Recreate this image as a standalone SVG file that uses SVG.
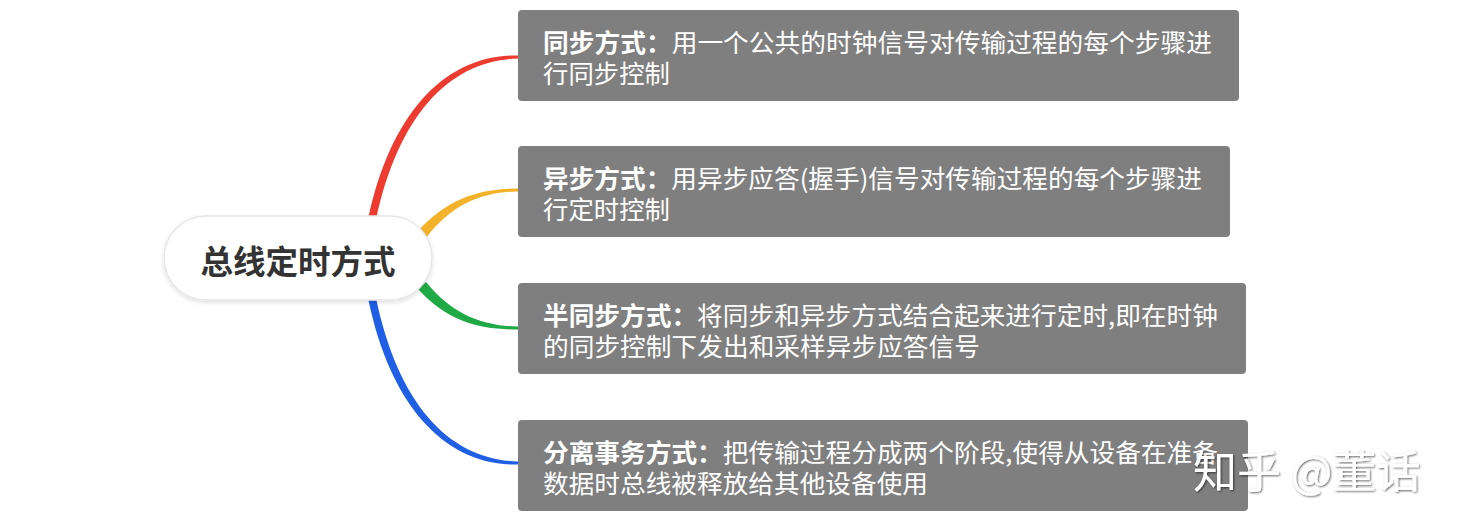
<svg xmlns="http://www.w3.org/2000/svg" width="1461" height="529" viewBox="0 0 1461 529">
<defs>
<filter id="sh" x="-10%" y="-20%" width="120%" height="150%"><feDropShadow dx="0" dy="2" stdDeviation="2" flood-color="#000" flood-opacity="0.12"/></filter>
<filter id="wm" x="-10%" y="-20%" width="120%" height="150%"><feDropShadow dx="1" dy="1" stdDeviation="1" flood-color="#000" flood-opacity="0.6"/></filter>
<style>
.box{fill:#7f7f7f;}
.t{font-family:"Noto Sans CJK SC","Noto Sans",sans-serif;font-size:25px;fill:#fff;}
.b{font-weight:bold;}
.c{font-family:"Noto Sans CJK SC","Noto Sans",sans-serif;font-size:32.5px;font-weight:bold;fill:#333;}
</style>
</defs>
<rect width="1461" height="529" fill="#fff"/>
<g id="connectors">
<path d="M368 220 C391 110 448 54 518 55.5 L518 58.5 C452 60 399 112 376 220 Z" fill="#ee3b2f"/>
<path d="M418 231 C448 198 480 188.5 518 188.5 L518 191.5 C482 192 452 204 426 238 Z" fill="#f4b22b"/>
<path d="M418 289 C448 322 480 329.5 518 329.5 L518 326.5 C482 326 452 314 426 282 Z" fill="#1faa45"/>
<path d="M368 298 C391 410 448 466 518 464.5 L518 461.5 C452 460 399 408 376 298 Z" fill="#1f5fe6"/>
</g>
<g id="root">
<rect x="164" y="216" width="268" height="84" rx="42" fill="#fff" stroke="#e6e6e6" stroke-width="1.5" filter="url(#sh)"/>
<text class="c" x="298" y="274" text-anchor="middle">总线定时方式</text>
</g>
<g id="n1">
<rect class="box" x="518" y="10" width="721" height="91" rx="4"/>
<text class="t" x="543" y="52" textLength="669" lengthAdjust="spacingAndGlyphs"><tspan class="b">同步方式：</tspan>用一个公共的时钟信号对传输过程的每个步骤进</text>
<text class="t" x="543" y="83" textLength="127" lengthAdjust="spacingAndGlyphs">行同步控制</text>
</g>
<g id="n2">
<rect class="box" x="518" y="146" width="712" height="91" rx="4"/>
<text class="t" x="543" y="188" textLength="659" lengthAdjust="spacingAndGlyphs"><tspan class="b">异步方式：</tspan>用异步应答(握手)信号对传输过程的每个步骤进</text>
<text class="t" x="543" y="219" textLength="127" lengthAdjust="spacingAndGlyphs">行定时控制</text>
</g>
<g id="n3">
<rect class="box" x="518" y="283" width="728" height="91" rx="4"/>
<text class="t" x="543" y="325" textLength="675" lengthAdjust="spacingAndGlyphs"><tspan class="b">半同步方式：</tspan>将同步和异步方式结合起来进行定时,即在时钟</text>
<text class="t" x="543" y="356" textLength="437" lengthAdjust="spacingAndGlyphs">的同步控制下发出和采样异步应答信号</text>
</g>
<g id="n4">
<rect class="box" x="518" y="420" width="730" height="91" rx="4"/>
<text class="t" x="543" y="462" textLength="675" lengthAdjust="spacingAndGlyphs"><tspan class="b">分离事务方式：</tspan>把传输过程分成两个阶段,使得从设备在准备</text>
<text class="t" x="543" y="493" textLength="385" lengthAdjust="spacingAndGlyphs">数据时总线被释放给其他设备使用</text>
</g>
<g id="watermark">
<text x="1193" y="488" font-family="Noto Sans CJK SC,sans-serif" font-size="44" fill="#fff" filter="url(#wm)">知乎 @董话</text>
</g>
</svg>
